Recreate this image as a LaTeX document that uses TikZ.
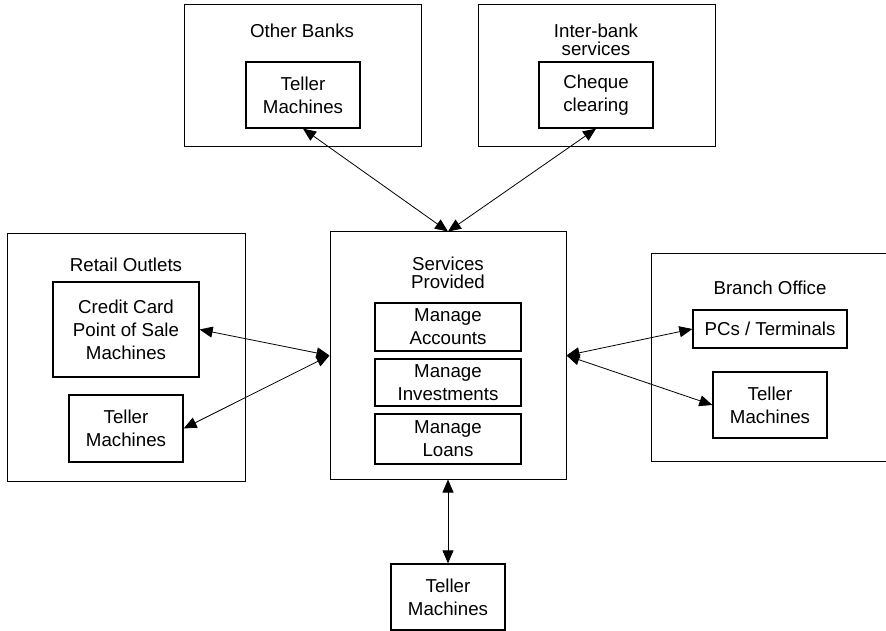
\documentclass[tikz,border=0pt]{standalone}
\usepackage{fontspec}
\setmainfont{Liberation Sans}
\usepackage{tikz}
\usetikzlibrary{arrows.meta, positioning}

\tikzset{
  esterno/.style={draw, line width=1pt, inner sep=0pt},
  interno/.style={draw, line width=1.3pt, align=center, font=\fontsize{18.7}{23}\selectfont},
  titolo/.style={align=center, font=\fontsize{18.7}{17.5}\selectfont},
  freccia/.style={{Triangle[length=13pt,width=11pt]}-{Triangle[length=13pt,width=11pt]}, line width=0.8pt},
}

\begin{document}
\begin{tikzpicture}[x=1pt, y=-1pt]
    \useasboundingbox (0,0) rectangle (886,631);

    % Riquadri esterni
    \node[esterno, minimum width=237, minimum height=142] (banche) at (302.5,76) {};
    \node[esterno, minimum width=237, minimum height=142] (interbanca) at (596.5,76) {};
    \node[esterno, minimum width=238, minimum height=247] (negozi) at (126,357.5) {};
    \node[esterno, minimum width=236, minimum height=247] (servizi) at (448,355.5) {};
    \node[esterno, minimum width=241, minimum height=208] (filiale) at (771.5,357) {};

    % Titoli
    \node[titolo] (titoloBanche) at (302,31) {Other Banks};
    \node[titolo] (titoloInter) at (596,40) {Inter-bank\\services};
    \node[titolo] (titoloNegozi) at (126,265) {Retail Outlets};
    \node[titolo] (titoloServizi) at (448,273) {Services\\Provided};
    \node[titolo] (titoloFiliale) at (770,288) {Branch Office};

    % Riquadri interni
    \node[interno, minimum width=114, minimum height=66] (tellerBanche) at (303,95) {Teller\\Machines};
    \node[interno, minimum width=114, minimum height=66] (assegni) at (596,95) {Cheque\\clearing};
    \node[interno, minimum width=146, minimum height=95] (carte) at (126,329.5) {Credit Card\\Point of Sale\\Machines};
    \node[interno, minimum width=114, minimum height=67] (tellerNegozi) at (126,428.5) {Teller\\Machines};
    \node[interno, minimum width=146, minimum height=48] (conti) at (448,327) {Manage\\Accounts};
    \node[interno, minimum width=146, minimum height=47] (investimenti) at (448,382.5) {Manage\\Investments};
    \node[interno, minimum width=146, minimum height=50] (prestiti) at (448,439) {Manage\\Loans};
    \node[interno, minimum width=154, minimum height=38] (pc) at (770,329) {PCs / Terminals};
    \node[interno, minimum width=114, minimum height=66] (tellerFiliale) at (770,405) {Teller\\Machines};
    \node[interno, minimum width=114, minimum height=66] (tellerSotto) at (448,597) {Teller\\Machines};

    % Frecce
    \draw[freccia] (tellerBanche.south) -- (servizi.north);
    \draw[freccia] (assegni.south) -- (servizi.north);
    \draw[freccia] (carte.east) -- (servizi.west);
    \draw[freccia] (tellerNegozi.east) -- (servizi.west);
    \draw[freccia] (servizi.east) -- (pc.west);
    \draw[freccia] (servizi.east) -- (tellerFiliale.west);
    \draw[freccia] (servizi.south) -- (tellerSotto.north);
\end{tikzpicture}
\end{document}
